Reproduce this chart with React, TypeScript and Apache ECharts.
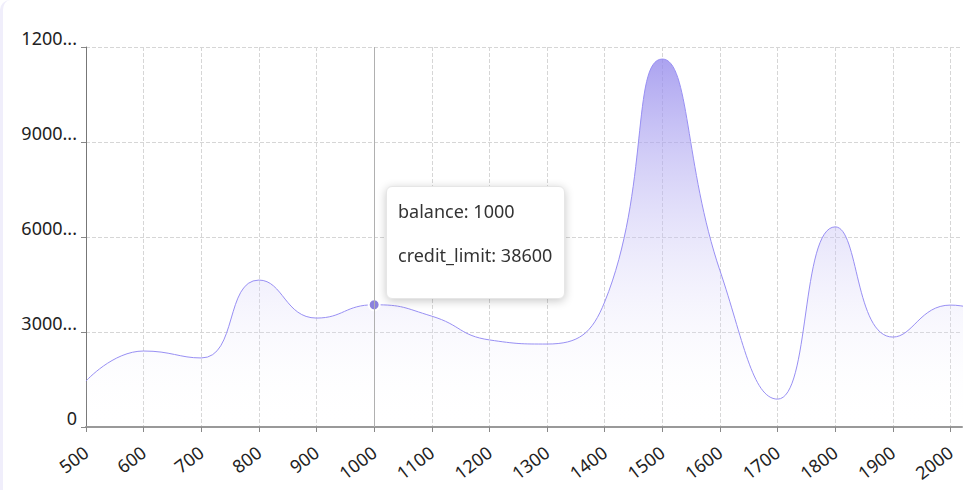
import React, { useEffect, useRef } from "react";
import * as echarts from "echarts";

const balances = [500, 600, 700, 800, 900, 1000, 1100, 1200, 1300, 1400, 1500, 1600, 1700, 1800, 1900, 2000, 2100];
const creditLimits = [14500, 24000, 21800, 46400, 34400, 38600, 35000, 27500, 26200, 39500, 116200, 49400, 8800, 63200, 28400, 38500, 33000];
const xTicks = [500, 600, 700, 800, 900, 1000, 1100, 1200, 1300, 1400, 1500, 1600, 1700, 1800, 1900, 2000];
const yTicks = [0, 30000, 60000, 90000, 120000];
const tipIndex = 5;

const FONT = "'Noto Sans', sans-serif";

export default function App() {
  const ref = useRef<HTMLDivElement>(null);
  useEffect(() => {
    if (!ref.current) return;
    const chart = echarts.init(ref.current, undefined, { renderer: "svg" });
    const data = balances.map((b, i) => [b, creditLimits[i]]);
    chart.setOption({
      animation: false,
      textStyle: { fontFamily: FONT },
      grid: { left: 86, right: 15, top: 47, bottom: 63, containLabel: false },
      tooltip: {
        trigger: "axis",
        alwaysShowContent: true,
        transitionDuration: 0,
        position: [386, 186],
        backgroundColor: "#fff",
        borderColor: "#e6e6e6",
        borderWidth: 1,
        borderRadius: 6,
        padding: [13, 12, 32, 11],
        extraCssText: "box-shadow: 0 2px 10px rgba(0,0,0,0.22);",
        textStyle: { fontFamily: FONT, fontSize: 18, color: "#333" },
        axisPointer: {
          type: "line",
          lineStyle: { color: "#b0b0b0", type: "solid", width: 1 },
        },
        formatter: (params: any) => {
          const p = Array.isArray(params) ? params[0] : params;
          const v = p.value;
          return (
            `<div style="font-family:${FONT};font-size:18px;color:#333;line-height:22px">balance: ${v[0]}</div>` +
            `<div style="font-family:${FONT};font-size:18px;color:#333;line-height:22px;margin-top:22px">credit_limit: ${v[1]}</div>`
          );
        },
      },
      xAxis: {
        type: "value",
        min: xTicks[0],
        max: 2020,
        interval: 100,
        axisLine: { show: true, lineStyle: { color: "#999", width: 2 } },
        axisTick: { show: true, length: 5, customValues: xTicks, lineStyle: { color: "#888" } },
        axisLabel: {
          customValues: xTicks,
          rotate: 37,
          fontSize: 18,
          color: "#222",
          margin: 23,
          fontFamily: FONT,
          formatter: (v: number) => String(v),
        },
        splitLine: { show: true, lineStyle: { color: "#d6d6d6", type: "dashed" } },
      },
      yAxis: {
        type: "value",
        min: yTicks[0],
        max: yTicks[yTicks.length - 1],
        interval: 30000,
        axisLine: { show: true, lineStyle: { color: "#777", width: 1 } },
        axisTick: { show: true, length: 5, lineStyle: { color: "#888" } },
        axisLabel: {
          fontSize: 18,
          color: "#222",
          margin: 9,
          verticalAlign: "bottom",
          lineHeight: 18,
          fontFamily: FONT,
          formatter: (v: number) => {
            const s = String(v);
            return s.length > 4 ? s.slice(0, 4) + "..." : s;
          },
        },
        splitLine: { show: true, lineStyle: { color: "#d6d6d6", type: "dashed" } },
      },
      series: [
        {
          type: "line",
          data,
          smooth: true,
          showSymbol: false,
          symbol: "circle",
          symbolSize: 11,
          clip: true,
          itemStyle: { color: "#8b82dd", borderColor: "#fff", borderWidth: 2 },
          lineStyle: { color: "#8b82dd", width: 1 },
          emphasis: { scale: false, lineStyle: { width: 1 }, itemStyle: { color: "#8b82dd", borderColor: "#fff", borderWidth: 2 } },
          areaStyle: {
            opacity: 1,
            color: new echarts.graphic.LinearGradient(0, 0, 0, 1, [
              { offset: 0, color: "rgba(135,125,215,0.78)" },
              { offset: 1, color: "rgba(255,255,255,0)" },
            ]),
          },
        },
      ],
    });
    chart.dispatchAction({ type: "showTip", seriesIndex: 0, dataIndex: tipIndex });
    return () => chart.dispose();
  }, []);
  return (
    <div
      style={{
        position: "fixed",
        left: 0,
        top: 0,
        width: 977,
        height: 490,
        background: "#fff",
        borderLeft: "3px solid #f0eefb",
        borderTopLeftRadius: 10,
        boxSizing: "border-box",
      }}
    >
      <div ref={ref} style={{ position: "absolute", left: -3, top: 0, width: 977, height: 490 }} />
    </div>
  );
}
